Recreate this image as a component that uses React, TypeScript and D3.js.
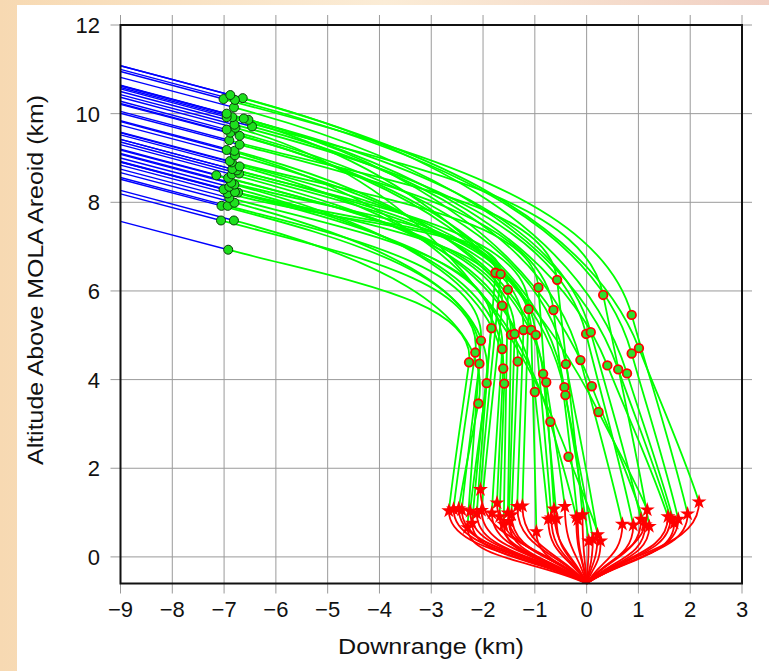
import React from 'react';
import * as d3 from 'd3';

const W = 769;
const H = 671;
const margin = { top: 25, right: 27, bottom: 87.5, left: 120.5 };
const FONT = '"Liberation Sans", Arial, Helvetica, sans-serif';

// altitude where each trajectory enters at x = -9 km
const entryAlt = [7.57, 8.19, 8.27, 8.52, 8.56, 8.67, 8.75, 8.84, 8.92, 8.91, 8.91, 9.0, 9.08, 9.1, 9.2, 9.18, 9.3, 9.36, 9.42, 9.42, 9.52, 9.57, 9.58, 9.74, 9.84, 9.82, 10.01, 10.05, 10.21, 10.23, 10.28, 10.37, 10.5, 10.43, 10.63, 10.63, 10.59, 10.56, 10.64, 10.82, 11.08, 11.0, 10.95, 11.08];

// parachute deploy (green dots)
const chuteX = [-6.92, -7.06, -6.81, -7.05, -6.93, -6.8, -6.9, -6.93, -6.73, -6.79, -7.01, -6.9, -6.8, -6.86, -6.92, -7.15, -6.85, -6.71, -6.75, -6.84, -6.7, -6.85, -6.89, -6.79, -6.8, -6.95, -6.7, -6.9, -6.7, -6.88, -6.95, -6.78, -6.46, -6.8, -6.53, -6.62, -6.84, -6.95, -6.95, -6.81, -6.64, -6.79, -7.01, -6.88];
const chuteY = [6.93, 7.59, 7.59, 7.92, 7.92, 7.99, 8.1, 8.2, 8.22, 8.23, 8.29, 8.35, 8.4, 8.44, 8.55, 8.61, 8.63, 8.65, 8.72, 8.75, 8.81, 8.9, 8.93, 9.06, 9.16, 9.18, 9.3, 9.4, 9.5, 9.57, 9.64, 9.68, 9.71, 9.75, 9.86, 9.89, 9.92, 9.92, 10.0, 10.14, 10.35, 10.31, 10.33, 10.42];

// radar lock (red ringed circles)
const radarX = [-2.27, -2.15, -2.09, -2.07, -2.04, -1.93, -1.84, -1.76, -1.66, -1.63, -1.63, -1.61, -1.59, -1.52, -1.46, -1.39, -1.33, -1.22, -1.12, -1.07, -1.0, -0.98, -0.93, -0.84, -0.78, -0.7, -0.64, -0.57, -0.43, -0.41, -0.4, -0.35, -0.12, -0.01, 0.08, 0.1, 0.23, 0.32, 0.4, 0.61, 0.78, 0.87, 0.87, 1.01];
const radarY = [4.39, 4.61, 3.46, 4.36, 4.88, 3.92, 5.16, 6.41, 6.38, 5.67, 4.69, 4.25, 3.91, 6.03, 5.01, 5.03, 4.41, 5.12, 5.59, 5.12, 3.72, 5.01, 6.08, 4.13, 3.94, 3.05, 5.57, 6.25, 3.83, 3.65, 4.35, 2.26, 4.44, 5.03, 5.07, 3.85, 3.27, 5.91, 4.32, 4.23, 4.14, 4.59, 5.46, 4.71];

// lander separation (red stars)
const sepX = [-2.66, -2.57, -2.47, -2.41, -2.3, -2.25, -2.21, -2.12, -2.05, -2.03, -1.83, -1.73, -1.68, -1.6, -1.52, -1.5, -1.45, -1.34, -1.24, -0.97, -0.74, -0.68, -0.63, -0.58, -0.42, -0.2, -0.17, -0.08, 0.04, 0.12, 0.21, 0.27, 0.69, 0.9, 1.05, 1.13, 1.17, 1.21, 1.57, 1.62, 1.69, 1.77, 1.95, 2.17];
const sepY = [1.04, 1.08, 1.09, 1.06, 0.66, 1.03, 0.76, 0.98, 1.52, 1.05, 0.99, 1.22, 0.91, 0.74, 0.99, 0.8, 0.95, 1.14, 1.15, 0.57, 0.85, 0.88, 1.08, 0.86, 1.14, 0.9, 0.84, 0.95, 0.36, 0.4, 0.5, 0.36, 0.74, 0.72, 0.85, 0.72, 1.06, 0.69, 0.91, 0.88, 0.76, 0.85, 0.97, 1.24];

const xTicks = [-9, -8, -7, -6, -5, -4, -3, -2, -1, 0, 1, 2, 3];
const yTicks = [0, 2, 4, 6, 8, 10, 12];
const touchdown = [0, -0.6];

const x = d3.scaleLinear().domain([-9, 3]).range([margin.left, W - margin.right]);
const y = d3.scaleLinear().domain([-0.6, 12]).range([H - margin.bottom, margin.top]);

const unit = (dx: number, dy: number) => {
  const l = Math.hypot(dx, dy) || 1;
  return [dx / l, dy / l];
};

const App = () => {
  const x0 = x.range()[0], x1 = x.range()[1];
  const y0 = y.range()[0], y1 = y.range()[1];
  const fmt = (v: number) => (v < 0 ? '\u2212' + Math.abs(v) : String(v));
  const star = d3.symbol().type(d3.symbolStar).size(70)();

  const blue: string[] = [];
  const green: string[] = [];
  const red: string[] = [];
  const e = [x(touchdown[0]), y(touchdown[1])];
  entryAlt.forEach((alt, i) => {
    const b = [x(-9), y(alt)];
    const p0 = [x(chuteX[i]), y(chuteY[i])];
    const c = [x(radarX[i]), y(radarY[i])];
    const s = [x(sepX[i]), y(sepY[i])];
    blue.push(`M${b[0]},${b[1]}L${p0[0]},${p0[1]}`);

    // green leg keeps the blue heading, then bends down through the radar point
    const d0 = unit(p0[0] - b[0], p0[1] - b[1]);
    const t = unit(s[0] - c[0], s[1] - c[1]);
    const L1 = (c[0] - p0[0]) * 0.5;
    const L2 = (c[1] - p0[1]) * 0.55;
    const len = Math.hypot(s[0] - c[0], s[1] - c[1]) / 3;
    const end = unit(t[0] * 0.85, t[1] * 0.85 + 0.15);
    const g = d3.path();
    g.moveTo(p0[0], p0[1]);
    g.bezierCurveTo(p0[0] + d0[0] * L1, p0[1] + d0[1] * L1, c[0] - t[0] * L2, c[1] - t[1] * L2, c[0], c[1]);
    g.bezierCurveTo(c[0] + t[0] * len, c[1] + t[1] * len, s[0] - end[0] * len, s[1] - end[1] * len, s[0], s[1]);
    green.push(g.toString());

    // powered descent: drop, then sweep in to the touchdown point
    const r = d3.path();
    const drop = (e[1] - s[1]) * 0.55;
    r.moveTo(s[0], s[1]);
    r.bezierCurveTo(s[0], s[1] + drop, x(sepX[i] * 0.4), y(sepY[i] * 0.45 - 0.4), e[0], e[1]);
    red.push(r.toString());
  });

  return (
    <div style={{ position: 'absolute', left: 0, top: 0, width: W, height: H }}>
      <svg width={W} height={H} style={{ display: 'block' }}>
        <defs>
          <linearGradient id="bg" x1="0" y1="0" x2="1" y2="0">
            <stop offset="0" stopColor="#f7d9b2" />
            <stop offset="0.5" stopColor="#fbecd6" />
            <stop offset="1" stopColor="#f1d0c4" />
          </linearGradient>
        </defs>
        <rect x={0} y={0} width={W} height={H} fill="url(#bg)" />
        <rect x={17} y={5} width={W - 17} height={H - 5} fill="#fff" />

        {/* grid + outward ticks on all sides */}
        {xTicks.map(v => (
          <line key={'gx' + v} x1={x(v)} x2={x(v)} y1={y1 - 10} y2={y0 + 10} stroke="#9a9a9a" strokeWidth={1} />
        ))}
        {yTicks.map(v => (
          <line key={'gy' + v} x1={x0 - 10} x2={x1 + 10} y1={y(v)} y2={y(v)} stroke="#9a9a9a" strokeWidth={1} />
        ))}

        <g fill="none" strokeLinejoin="round">
          {blue.map((d, i) => <path key={'b' + i} d={d} stroke="#0000ff" strokeWidth={1.4} />)}
          {green.map((d, i) => <path key={'g' + i} d={d} stroke="#00ff00" strokeWidth={1.8} />)}
          {red.map((d, i) => <path key={'r' + i} d={d} stroke="#ff0000" strokeWidth={1.8} />)}
        </g>

        {chuteX.map((v, i) => (
          <circle key={'c' + i} cx={x(v)} cy={y(chuteY[i])} r={4.5} fill="#1ee01e" stroke="#0b3d0b" strokeWidth={1} />
        ))}
        {radarX.map((v, i) => (
          <circle key={'rc' + i} cx={x(v)} cy={y(radarY[i])} r={4.3} fill="#2ee02e" stroke="#ff0000" strokeWidth={1.8} />
        ))}
        {sepX.map((v, i) => (
          <path key={'s' + i} d={star || ''} transform={`translate(${x(v)},${y(sepY[i])})`} fill="#ff0000" />
        ))}

        <rect x={x0} y={y1} width={x1 - x0} height={y0 - y1} fill="none" stroke="#111" strokeWidth={2} />

        <g fontFamily={FONT} fontSize={22} fill="#111">
          {xTicks.map(v => (
            <text key={'tx' + v} x={x(v)} y={617} textAnchor="middle">{fmt(v)}</text>
          ))}
          {yTicks.map(v => (
            <text key={'ty' + v} x={100} y={y(v)} dy="0.36em" textAnchor="end">{v}</text>
          ))}
        </g>
        <text x={431} y={654} textAnchor="middle" fontFamily={FONT} fontSize={22} fill="#111"
          textLength={186} lengthAdjust="spacingAndGlyphs">Downrange (km)</text>
        <text transform="translate(43,280) rotate(-90)" textAnchor="middle" fontFamily={FONT} fontSize={22} fill="#111"
          textLength={370} lengthAdjust="spacingAndGlyphs">Altitude Above MOLA Areoid (km)</text>
      </svg>
    </div>
  );
};

export default App;
